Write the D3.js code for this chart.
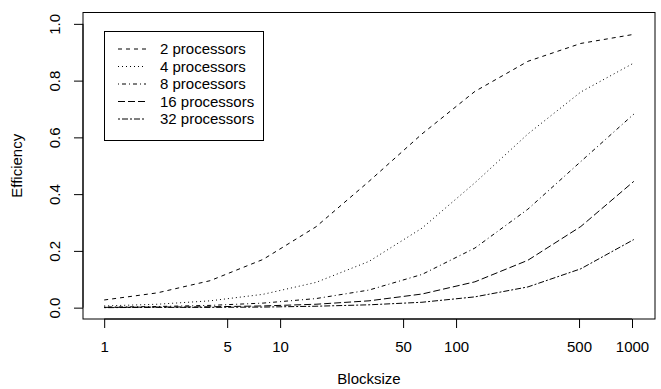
<!DOCTYPE html>
<html><head><meta charset="utf-8">
<script src="https://cdn.jsdelivr.net/npm/d3@7"></script>
<style>
html,body{margin:0;padding:0;background:#fff;}
svg text{font-family:"Liberation Sans",Arial,Helvetica,sans-serif;fill:#000;}
</style></head>
<body><svg id="c" width="661" height="389"></svg>
<script>
const blocksizes = [1,2,4,8,16,32,64,128,256,512,1024];
const seriesNames = ["2 processors","4 processors","8 processors","16 processors","32 processors"];
const eff2  = [0.027,0.052,0.095,0.170,0.285,0.445,0.612,0.762,0.868,0.931,0.963];
const eff4  = [0.006,0.012,0.024,0.047,0.089,0.163,0.280,0.440,0.612,0.760,0.862];
const eff8  = [0.002,0.004,0.008,0.016,0.032,0.062,0.117,0.210,0.347,0.515,0.682];
const eff16 = [0.001,0.002,0.003,0.006,0.012,0.024,0.048,0.091,0.167,0.286,0.445];
const eff32 = [0.000,0.001,0.001,0.002,0.005,0.010,0.019,0.038,0.073,0.137,0.240];
const seriesValues = [eff2, eff4, eff8, eff16, eff32];
const dashes = ["4,4","1,3","1,3,4,3","7,3","2,2,6,2"];
const xTicks = [1,5,10,50,100,500,1000];
const yTicks = [0,0.2,0.4,0.6,0.8,1.0];

const svg = d3.select("#c");
const L=83, R=655, T=12.5, B=319;
const lx0 = Math.log10(blocksizes[0]), lx1 = Math.log10(blocksizes[blocksizes.length-1]);
const ex = (lx1-lx0)*0.04;
const x = d3.scaleLog().domain([Math.pow(10,lx0-ex), Math.pow(10,lx1+ex)]).range([L,R]);
const y = d3.scaleLinear().domain([-0.04,1.04]).range([B,T]);
const fs = 15;

// box
svg.append("rect").attr("x",L).attr("y",T).attr("width",R-L).attr("height",B-T)
  .attr("fill","none").attr("stroke","#000").attr("stroke-width",1);

// x axis
const xa = svg.append("g").attr("transform",`translate(0,${B})`)
  .call(d3.axisBottom(x).tickValues(xTicks).tickFormat(d3.format("d")).tickSize(9).tickSizeOuter(0));
xa.select(".domain").attr("d",`M${x(1)},0H${x(1000)}`);
xa.selectAll("text").attr("font-size",fs).attr("dy",null).attr("y",33).attr("font-family",null);
xa.attr("font-family",null);

// y axis
const ya = svg.append("g").attr("transform",`translate(${L},0)`)
  .call(d3.axisLeft(y).tickValues(yTicks).tickFormat(d3.format(".1f")).tickSize(9).tickSizeOuter(0));
ya.select(".domain").attr("d",`M0,${y(0)}V${y(1)}`);
ya.attr("font-family",null);
ya.selectAll(".tick text").attr("font-size",fs).attr("x",null).attr("dy",null)
  .attr("text-anchor","middle").attr("transform","translate(-28,0) rotate(-90)").attr("y",5);

// titles
svg.append("text").attr("x",(L+R)/2).attr("y",384).attr("text-anchor","middle").attr("font-size",fs).text("Blocksize");
svg.append("text").attr("transform",`translate(22,${(T+B)/2}) rotate(-90)`).attr("text-anchor","middle").attr("font-size",fs).text("Efficiency");

// lines
const line = d3.line().x((d,i)=>x(blocksizes[i])).y(d=>y(d));
seriesValues.forEach((vals,k)=>{
  svg.append("path").attr("d",line(vals)).attr("fill","none").attr("stroke","#000")
    .attr("stroke-width",1).attr("stroke-dasharray",dashes[k]);
});

// legend
const lg = svg.append("g");
lg.append("rect").attr("x",104.5).attr("y",31.5).attr("width",159).attr("height",109)
  .attr("fill","#fff").attr("stroke","#000").attr("stroke-width",1);
seriesNames.forEach((n,k)=>{
  const yy = 49 + k*17.5;
  lg.append("line").attr("x1",118).attr("x2",146).attr("y1",yy).attr("y2",yy)
    .attr("stroke","#000").attr("stroke-width",1).attr("stroke-dasharray",dashes[k]);
  lg.append("text").attr("x",160).attr("y",yy+5).attr("font-size",fs).text(n);
});
</script></body></html>
